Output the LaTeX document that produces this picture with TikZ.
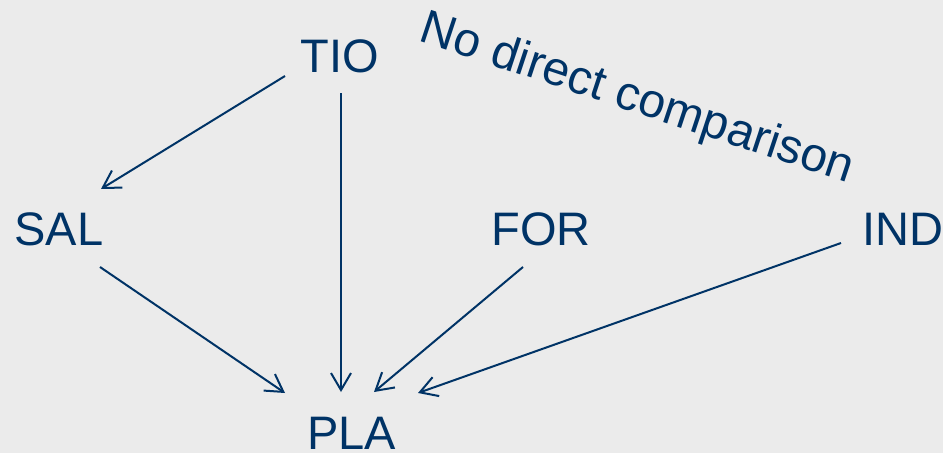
\documentclass[tikz,border=0pt]{standalone}
\usepackage{fontspec}
\setmainfont{Liberation Sans}
\usetikzlibrary{arrows.meta}
\definecolor{ink}{RGB}{0,51,102}
\definecolor{bg}{RGB}{235,235,235}
\tikzset{
  lbl/.style={anchor=base, inner sep=0pt, text=ink, font=\fontsize{47}{56}\selectfont},
  conn/.style={draw=ink, line width=2pt, -{Straight Barb[length=17pt,width=20pt,line width=2pt]}}
}
\begin{document}
\begin{tikzpicture}[x=1pt,y=-1pt]
\fill[bg] (0,0) rectangle (943,453);
\useasboundingbox (0,0) rectangle (943,453);
\node[lbl] (tio) at (339.5,72) {TIO};
\node[lbl] (sal) at (59,245) {SAL};
\node[lbl] (for) at (541,245) {FOR};
\node[lbl] (ind) at (903,245) {IND};
\node[lbl] (pla) at (351.5,449) {PLA};
\node[lbl, font=\fontsize{48}{57}\selectfont, rotate=-18.3] (ndc) at (633,112) {No direct comparison};
% connector end points
\coordinate (tioA) at (285,76);
\coordinate (salIn) at (101,189);
\coordinate (tioB) at (341,93);
\coordinate (plaT) at (341,392);
\coordinate (salOut) at (100,267);
\coordinate (plaS) at (285,393);
\coordinate (forOut) at (523,267);
\coordinate (plaF) at (374,392);
\coordinate (indOut) at (841,243);
\coordinate (plaI) at (418,393);
\draw[conn] (tioA) -- (salIn);
\draw[conn] (tioB) -- (plaT);
\draw[conn] (salOut) -- (plaS);
\draw[conn] (forOut) -- (plaF);
\draw[conn] (indOut) -- (plaI);
\end{tikzpicture}
\end{document}
